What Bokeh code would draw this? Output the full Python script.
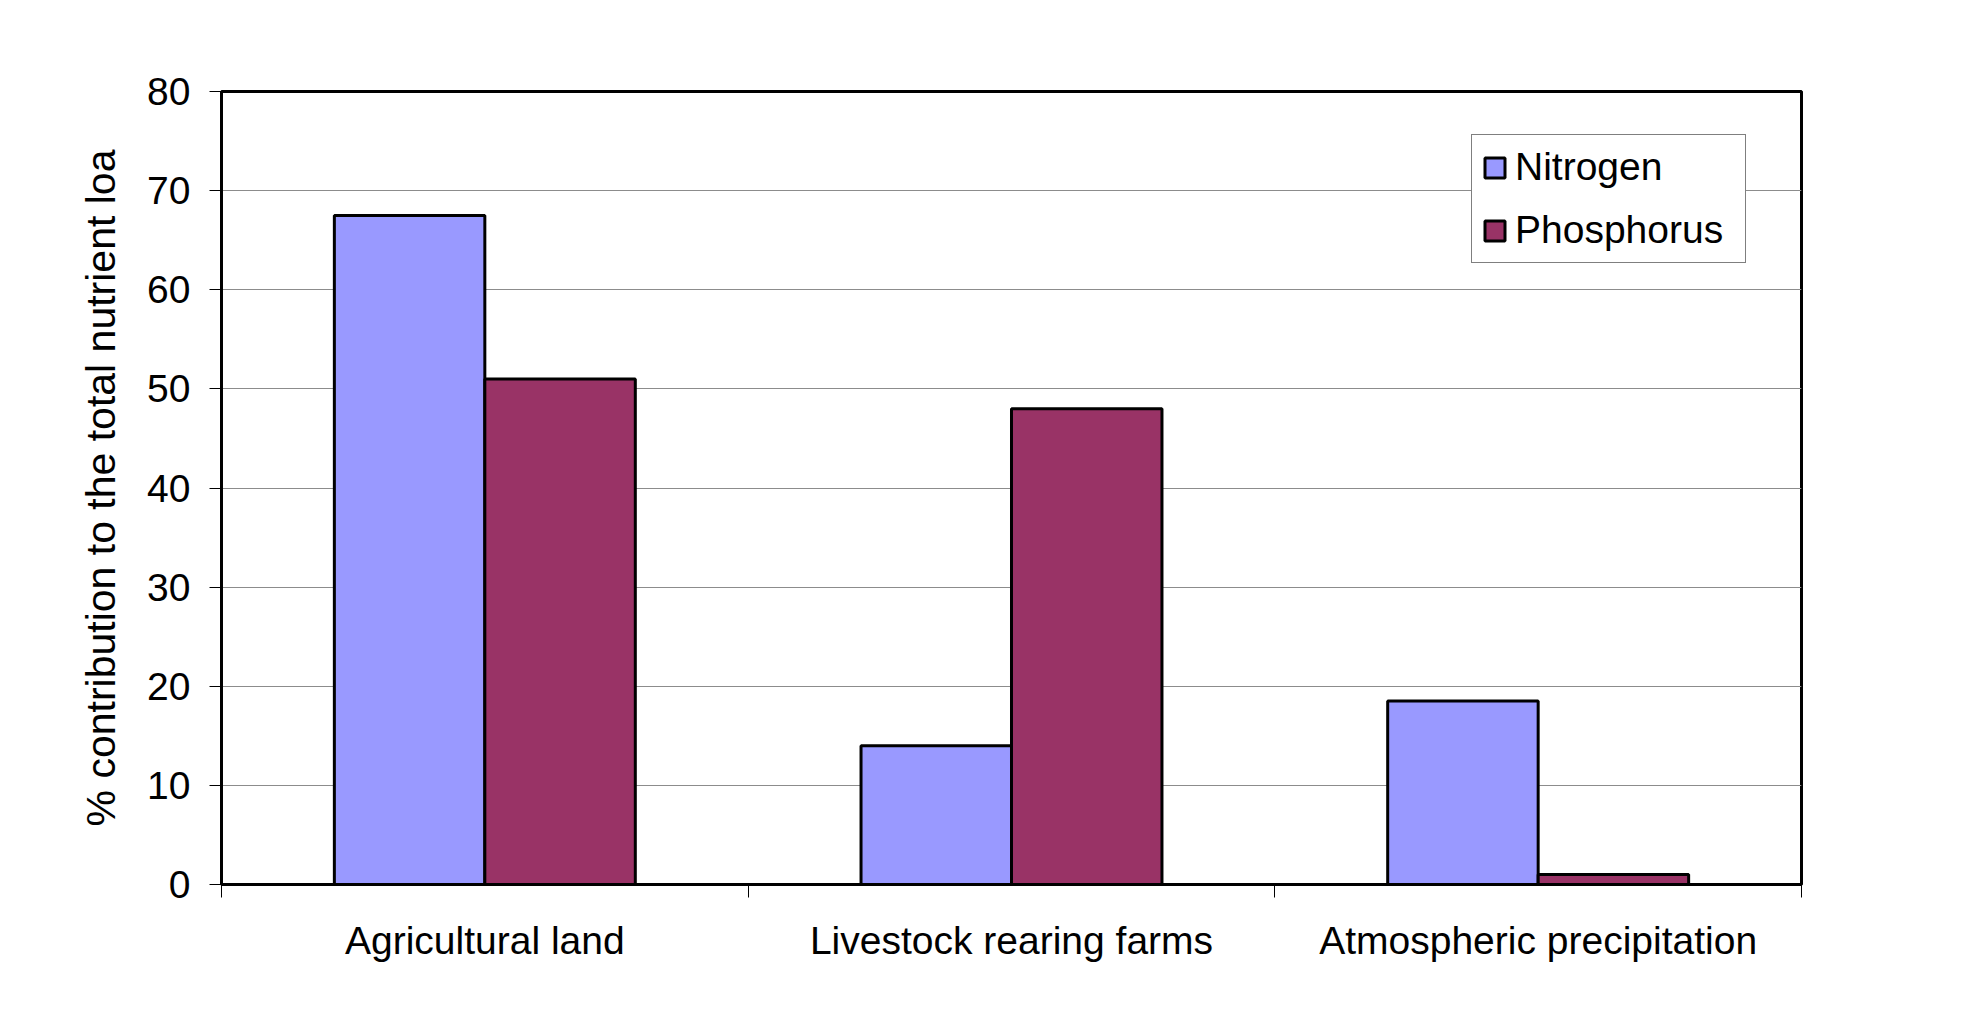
import numpy as np
from bokeh.plotting import figure
from bokeh.models import Range1d, FixedTicker, Legend, LegendItem
from bokeh.embed import file_html
from bokeh.resources import INLINE

categories = ["Agricultural land", "Livestock rearing farms", "Atmospheric precipitation"]
nitrogen = [67.5, 14.0, 18.5]
phosphorus = [51.0, 48.0, 1.0]
series_names = ["Nitrogen", "Phosphorus"]
series_colors = ["#9999FF", "#993366"]
y_ticks = [0, 10, 20, 30, 40, 50, 60, 70, 80]
y_label = "% contribution to the total nutrient loa"

FONT = "Liberation Sans"
FS = "39px"
W, H = 1959, 1019

p = figure(width=W, height=H, output_backend="svg", toolbar_location=None,
           x_range=Range1d(0, len(categories)), y_range=Range1d(y_ticks[0], y_ticks[-1]),
           min_border_left=221, min_border_right=158, min_border_top=91, min_border_bottom=135)

p.background_fill_color = "white"
p.border_fill_color = "white"
p.outline_line_color = "black"
p.outline_line_width = 3

idx = np.arange(len(categories))
bar_w = 1 / 3.5
x_n = idx + 0.5 - bar_w / 2
x_p = idx + 0.5 + bar_w / 2

r_n = p.vbar(x=x_n, top=nitrogen, width=bar_w, bottom=0,
             fill_color=series_colors[0], line_color="black", line_width=3)
r_p = p.vbar(x=x_p, top=phosphorus, width=bar_w, bottom=0,
             fill_color=series_colors[1], line_color="black", line_width=3)

# x axis
xa = p.xaxis[0]
xa.ticker = FixedTicker(ticks=list(idx + 0.5), minor_ticks=list(range(len(categories) + 1)))
xa.major_label_overrides = {float(i + 0.5): c for i, c in enumerate(categories)}
xa.major_tick_out = 0
xa.major_tick_in = 0
xa.minor_tick_out = 13
xa.minor_tick_in = 0
xa.minor_tick_line_color = "black"
xa.minor_tick_line_width = 1
xa.axis_line_color = "black"
xa.axis_line_width = 3
xa.major_label_text_font = FONT
xa.major_label_text_font_size = FS
xa.major_label_text_color = "black"
xa.major_label_standoff = 21

# y axis
ya = p.yaxis[0]
ya.ticker = FixedTicker(ticks=y_ticks, minor_ticks=[])
ya.major_tick_out = 12
ya.major_tick_in = 0
ya.major_tick_line_color = "black"
ya.major_tick_line_width = 1
ya.axis_line_color = "black"
ya.axis_line_width = 3
ya.major_label_text_font = FONT
ya.major_label_text_font_size = FS
ya.major_label_text_color = "black"
ya.major_label_standoff = 19
ya.axis_label = y_label
ya.axis_label_text_font = FONT
ya.axis_label_text_font_size = "41px"
ya.axis_label_text_font_style = "normal"
ya.axis_label_text_color = "black"
ya.axis_label_standoff = 20

p.xgrid.visible = False
p.ygrid.ticker = FixedTicker(ticks=y_ticks, minor_ticks=[])
p.ygrid.grid_line_color = "#8c8c8c"
p.ygrid.grid_line_width = 1

legend = Legend(items=[LegendItem(label=series_names[0], renderers=[r_n]),
                       LegendItem(label=series_names[1], renderers=[r_p])],
                location=(1250, 621))
legend.label_text_font = FONT
legend.label_text_font_size = FS
legend.label_text_color = "black"
legend.glyph_width = 25
legend.glyph_height = 25
legend.label_standoff = 8
legend.label_width = 220
legend.padding = 10
legend.spacing = 19
legend.margin = 0
legend.border_line_color = "black"
legend.border_line_width = 1
legend.background_fill_color = "white"
legend.background_fill_alpha = 1
p.add_layout(legend)

open("out.html", "w").write(file_html(p, INLINE))
